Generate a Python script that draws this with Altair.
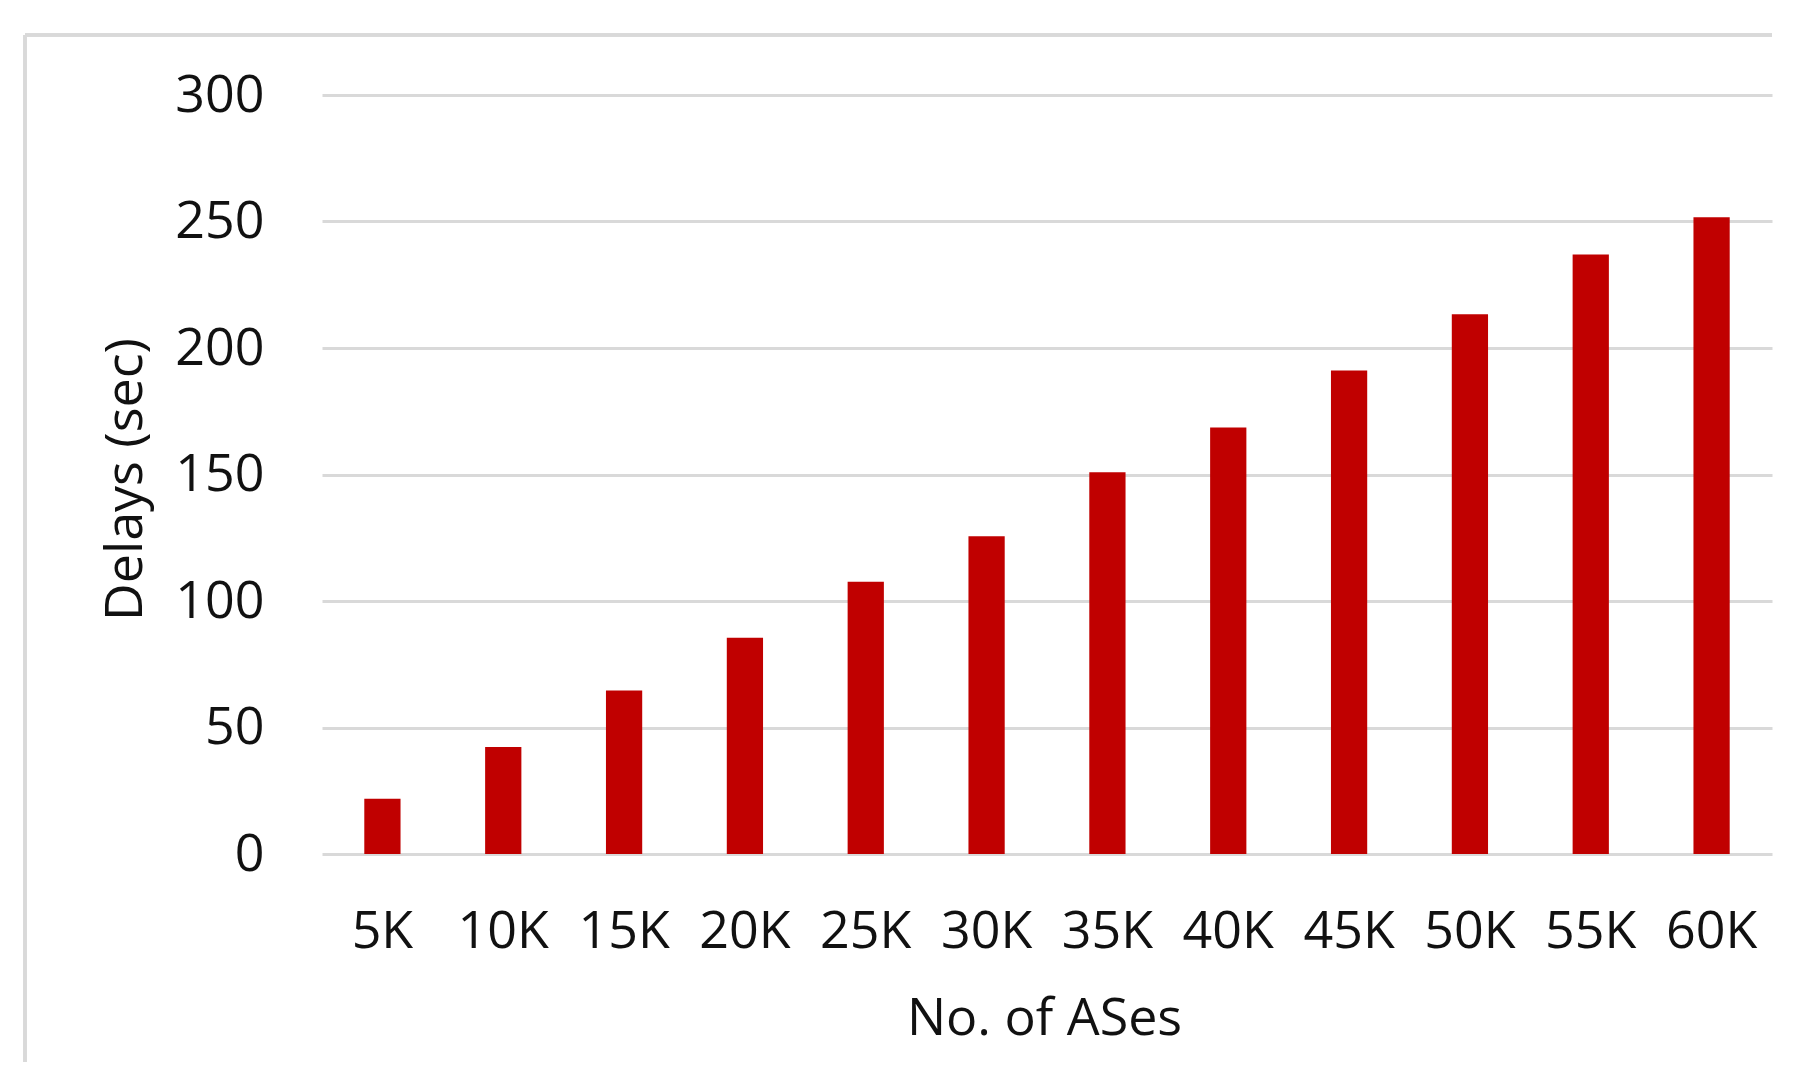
import altair as alt
import pandas as pd

categories = ["5K", "10K", "15K", "20K", "25K", "30K", "35K", "40K", "45K", "50K", "55K", "60K"]
delays = [21.8, 42.3, 64.6, 85.5, 107.6, 125.6, 150.9, 168.6, 191.1, 213.3, 237.0, 251.7]
y_ticks = [0, 50, 100, 150, 200, 250, 300]

df = pd.DataFrame({"ases": categories, "delay": delays})

W, H = 1450, 759
FONT = "Open Sans"
FS = 52
GRID = "#d9d9d9"

bars = alt.Chart(df).mark_bar(color="#C00000").encode(
    x=alt.X(
        "ases:N",
        sort=categories,
        scale=alt.Scale(paddingInner=0.70, paddingOuter=0.35),
        axis=alt.Axis(
            title="No. of ASes",
            labelAngle=0,
            labelFont=FONT,
            labelFontSize=FS,
            labelColor="#111111",
            labelBaseline="middle",
            labelPadding=77,
            ticks=False,
            domain=False,
            grid=False,
            titleFont=FONT,
            titleFontSize=FS,
            titleFontWeight="normal",
            titleColor="#111111",
            titleBaseline="middle",
            titleX=722,
            titleY=164,
        ),
    ),
    y=alt.Y(
        "delay:Q",
        scale=alt.Scale(domain=[0, 300], nice=False),
        axis=alt.Axis(
            title="Delays (sec)",
            values=y_ticks,
            labelFont=FONT,
            labelFontSize=FS,
            labelColor="#111111",
            labelPadding=58,
            ticks=False,
            domain=False,
            grid=True,
            gridColor=GRID,
            gridWidth=3,
            titleFont=FONT,
            titleFontSize=FS,
            titleFontWeight="normal",
            titleColor="#111111",
            titleAngle=-90,
            titleBaseline="middle",
            titleAlign="center",
            titleX=-197,
            titleY=384,
        ),
    ),
)

top_border = alt.Chart(df).mark_rule(color=GRID, strokeWidth=3).encode(
    x=alt.value(-297), x2=alt.value(W), y=alt.value(-60)
)
left_border = alt.Chart(df).mark_rule(color=GRID, strokeWidth=3).encode(
    x=alt.value(-297), y=alt.value(-60), y2=alt.value(967)
)

chart = (
    alt.layer(top_border, left_border, bars)
    .properties(
        width=W,
        height=H,
        autosize=alt.AutoSizeParams(type="none"),
        padding={"left": 314, "top": 87, "right": 34, "bottom": 210},
        background="white",
    )
    .configure_view(stroke=None)
)

chart.save("out.html", embed_options={"renderer": "svg", "actions": False})
